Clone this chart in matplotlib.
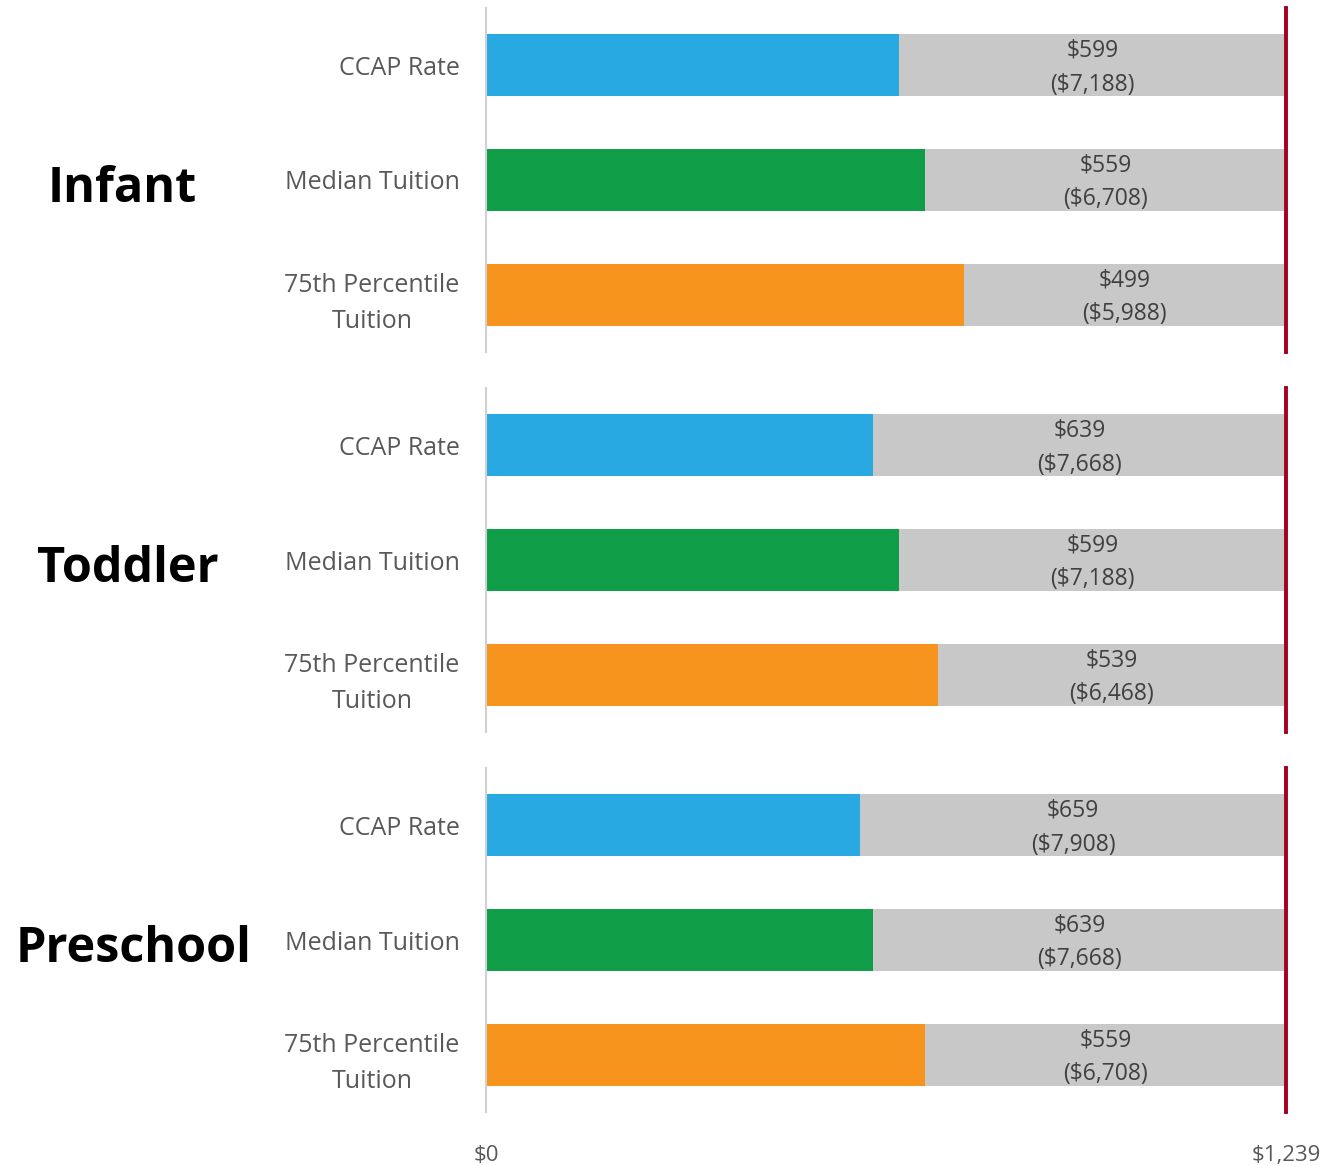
import matplotlib.pyplot as plt

plt.rcParams['font.family'] = ['Open Sans', 'DejaVu Sans']

# monthly benchmark (true cost of care)
benchmark = 1239

groups = ['Infant', 'Toddler', 'Preschool']
categories = ['CCAP Rate', 'Median Tuition', '75th Percentile\nTuition']

# monthly amounts for each group (CCAP, median, 75th pct)
infant_vals = [640, 680, 740]
toddler_vals = [600, 640, 700]
preschool_vals = [580, 600, 680]

# monthly gaps and annual gaps shown in the labels
infant_gap = [599, 559, 499]
toddler_gap = [639, 599, 539]
preschool_gap = [659, 639, 559]
infant_annual = [7188, 6708, 5988]
toddler_annual = [7668, 7188, 6468]
preschool_annual = [7908, 7668, 6708]

all_vals = [infant_vals, toddler_vals, preschool_vals]
all_gaps = [infant_gap, toddler_gap, preschool_gap]
all_annual = [infant_annual, toddler_annual, preschool_annual]

bar_colors = ['#29A9E1', '#0F9D48', '#F7941D']
gap_color = '#C8C8C8'
line_color = '#A50021'
text_color = '#595959'

W, H = 1324, 1166
fig = plt.figure(figsize=(W / 100, H / 100), dpi=100)

# axes boxes in pixel coords: (top, bottom)
panels = [(8, 352), (388, 732), (768, 1112)]
x_left, x_right = 486, 1286
group_x = [122, 128, 134]

for i, (top, bottom) in enumerate(panels):
    ax = fig.add_axes([x_left / W, 1 - bottom / H, (x_right - x_left) / W, (bottom - top) / H])
    vals = all_vals[i]
    ypos = range(len(vals))
    ax.barh(ypos, vals, height=0.54, color=bar_colors, zorder=2)
    gaps = [benchmark - v for v in vals]
    ax.barh(ypos, gaps, left=vals, height=0.54, color=gap_color, zorder=2)
    ax.axvline(benchmark, color=line_color, lw=2.8, zorder=3, clip_on=False)
    for y, v, g, a in zip(ypos, vals, all_gaps[i], all_annual[i]):
        ax.text((v + benchmark) / 2, y + 0.02, '${:,}\n(${:,})'.format(g, a),
                ha='center', va='center', fontsize=16.5, color='#404040',
                linespacing=1.55, zorder=4)
    ax.set_xlim(0, benchmark)
    ax.set_ylim(2.5, -0.5)
    ax.set_yticks(list(ypos))
    ax.set_yticklabels(categories, fontsize=18, color=text_color, multialignment='center',
                       linespacing=1.6)
    ax.tick_params(axis='y', length=0, pad=19)
    for s in ['top', 'right', 'bottom']:
        ax.spines[s].set_visible(False)
    ax.spines['left'].set_color('#D0D0D0')
    ax.spines['left'].set_linewidth(1.5)
    if i == len(panels) - 1:
        ax.set_xticks([0, benchmark])
        ax.set_xticklabels(['$0', '${:,}'.format(benchmark)], fontsize=16, color=text_color)
        ax.tick_params(axis='x', length=0, pad=24)
    else:
        ax.set_xticks([])
    fig.text(group_x[i] / W, 1 - ((top + bottom) / 2 + 9) / H, groups[i],
             ha='center', va='center', fontsize=35, fontweight='bold', color='black')

fig.savefig('out.png', dpi=100)
